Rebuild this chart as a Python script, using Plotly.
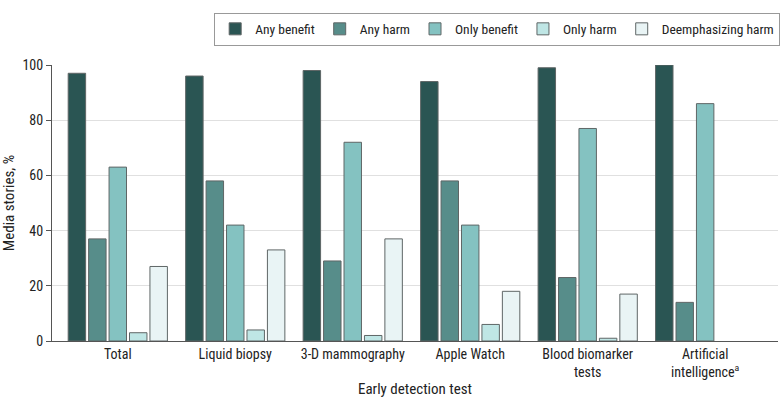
import plotly.graph_objects as go

categories = ["Total", "Liquid biopsy", "3-D mammography", "Apple Watch",
              "Blood biomarker<br>tests", "Artificial<br>intelligence<sup>a</sup>"]
any_benefit = [97, 96, 98, 94, 99, 100]
any_harm = [37, 58, 29, 58, 23, 14]
only_benefit = [63, 42, 72, 42, 77, 86]
only_harm = [3, 4, 2, 6, 1, None]
deemphasizing_harm = [27, 33, 37, 18, 17, None]

series = [
    ("Any benefit", any_benefit, "#2a5553"),
    ("Any harm", any_harm, "#578d8a"),
    ("Only benefit", only_benefit, "#84c2c1"),
    ("Only harm", only_harm, "#bfe6e5"),
    ("Deemphasizing harm", deemphasizing_harm, "#e9f4f5"),
]

FONT = "Liberation Sans Narrow, Roboto Condensed, Roboto, sans-serif"

fig = go.Figure()
for name, vals, color in series:
    fig.add_trace(go.Bar(
        x=categories, y=vals, name=name,
        marker=dict(color=color, line=dict(color="#5f6666", width=1)),
    ))

fig.update_layout(
    width=783, height=406,
    margin=dict(l=52, r=3, t=65, b=65),
    paper_bgcolor="white", plot_bgcolor="white",
    barmode="group", bargap=0.13, bargroupgap=0.146,
    font=dict(family=FONT, size=14, color="#222"),
    showlegend=True,
    legend=dict(
        orientation="h", x=1.003, xanchor="right", y=1.19, yanchor="top",
        bordercolor="#999", borderwidth=1, font=dict(size=13.5, family=FONT),
        itemwidth=30, traceorder="normal",
    ),
    xaxis=dict(
        title=dict(text="Early detection test", font=dict(size=15, family=FONT), standoff=4),
        showline=True, linecolor="#555", linewidth=1, ticks="",
        tickfont=dict(size=14, family=FONT), range=[-0.56, 5.62],
    ),
    yaxis=dict(
        title=dict(text="Media stories, %", font=dict(size=15, family=FONT), standoff=8),
        range=[0, 100], tickvals=[0, 20, 40, 60, 80, 100],
        showgrid=True, gridcolor="#e0e0e0", gridwidth=1,
        showline=True, linecolor="#555", linewidth=1,
        ticks="outside", ticklen=5, tickcolor="#555",
        tickfont=dict(size=14, family=FONT), zeroline=False,
    ),
)

fig.write_html("out.html", config={"displayModeBar": False},
               post_script="document.body.style.margin='0';")
